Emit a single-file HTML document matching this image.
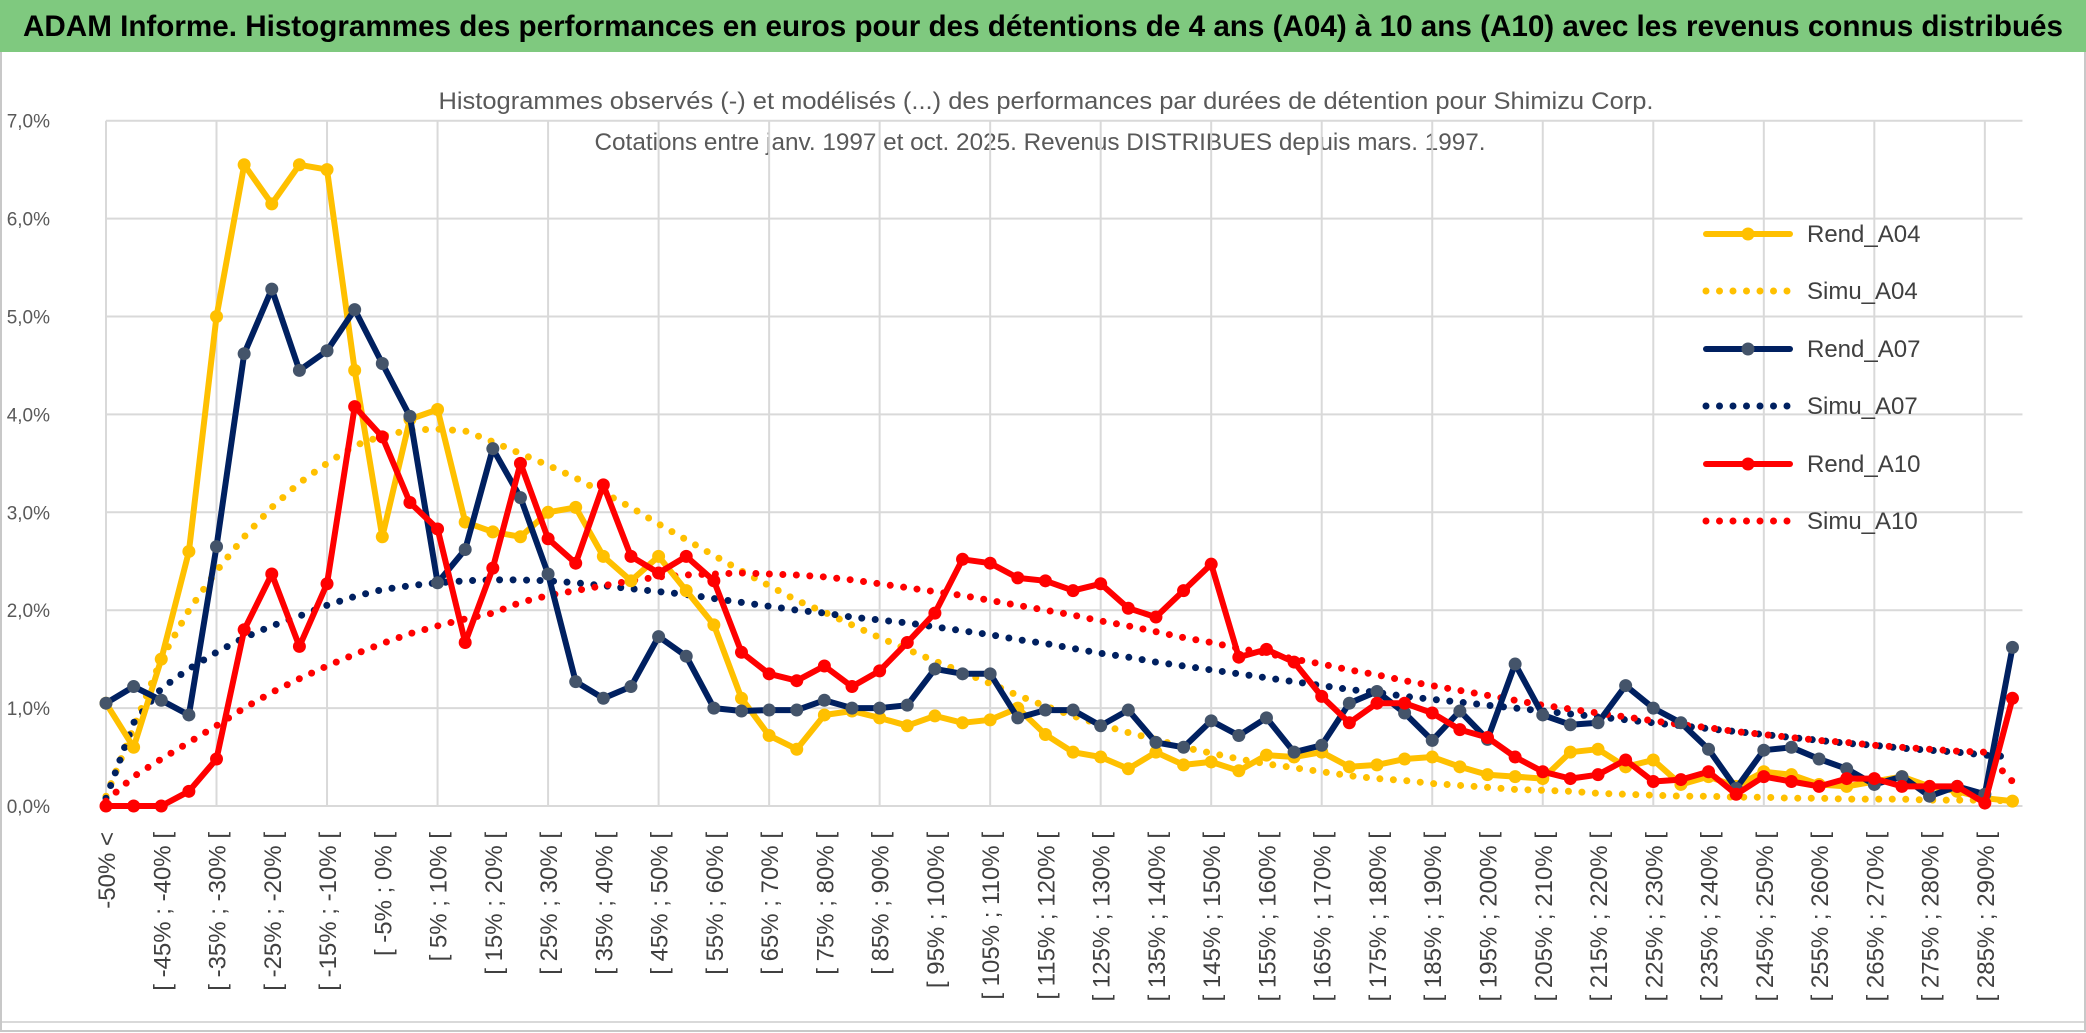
<!DOCTYPE html>
<html><head><meta charset="utf-8">
<style>
html,body{margin:0;padding:0;background:#fff;}
svg{display:block;}
text{font-family:"Liberation Sans Narrow","Liberation Sans",sans-serif;}
</style></head>
<body>
<svg id="chart" width="2086" height="1033" viewBox="0 0 2086 1033" xmlns="http://www.w3.org/2000/svg">
<rect x="0" y="0" width="2086" height="1033" fill="#fff"/>
<rect x="1" y="50" width="2084" height="981" fill="none" stroke="#c8c8c8" stroke-width="2"/>
<line x1="2" x2="2084" y1="1022" y2="1022" stroke="#d9d9d9" stroke-width="2"/>
<rect x="0" y="0" width="2086" height="52" fill="#7fc97f"/>
<text x="1043" y="36" text-anchor="middle" font-size="30" font-weight="bold" fill="#000" textLength="2040" lengthAdjust="spacingAndGlyphs">ADAM Informe. Histogrammes des performances en euros pour des détentions de 4 ans (A04) à 10 ans (A10) avec les revenus connus distribués</text>
<text x="1046" y="109" text-anchor="middle" font-size="24" fill="#595959" textLength="1215" lengthAdjust="spacingAndGlyphs">Histogrammes observés (-) et modélisés (...) des performances par durées de détention pour Shimizu Corp.</text>
<text x="1040" y="150" text-anchor="middle" font-size="24" fill="#595959" textLength="891" lengthAdjust="spacingAndGlyphs">Cotations entre janv. 1997 et oct. 2025. Revenus DISTRIBUES depuis mars. 1997.</text>
<g id="grid"></g>
<g id="yaxis"></g>
<g id="xaxis"></g>
<g id="series"></g>
<g id="legend"></g>
</svg>
<script>
const yTicks = [0,1,2,3,4,5,6,7];
const rendA04 = [1.05,0.6,1.5,2.6,5.0,6.55,6.15,6.55,6.5,4.45,2.75,3.95,4.05,2.9,2.8,2.75,3.0,3.05,2.55,2.3,2.55,2.2,1.85,1.1,0.72,0.58,0.93,0.97,0.9,0.82,0.92,0.85,0.88,1.0,0.73,0.55,0.5,0.38,0.55,0.42,0.45,0.36,0.52,0.5,0.55,0.4,0.42,0.48,0.5,0.4,0.32,0.3,0.28,0.55,0.58,0.4,0.47,0.22,0.3,0.2,0.35,0.32,0.22,0.2,0.25,0.3,0.2,0.15,0.08,0.05];
const rendA07 = [1.05,1.22,1.08,0.93,2.65,4.62,5.28,4.45,4.65,5.07,4.52,3.98,2.28,2.62,3.65,3.15,2.37,1.27,1.1,1.22,1.73,1.53,1.0,0.97,0.98,0.98,1.08,1.0,1.0,1.03,1.4,1.35,1.35,0.9,0.98,0.98,0.82,0.98,0.65,0.6,0.87,0.72,0.9,0.55,0.62,1.05,1.17,0.95,0.67,0.97,0.68,1.45,0.93,0.83,0.85,1.23,1.0,0.85,0.58,0.18,0.57,0.6,0.48,0.38,0.22,0.3,0.1,0.2,0.12,1.62];
const rendA10 = [0.0,0.0,0.0,0.15,0.48,1.8,2.37,1.63,2.27,4.08,3.77,3.1,2.83,1.67,2.43,3.5,2.73,2.48,3.28,2.55,2.38,2.55,2.3,1.57,1.35,1.28,1.43,1.22,1.38,1.67,1.97,2.52,2.48,2.33,2.3,2.2,2.27,2.02,1.93,2.2,2.47,1.52,1.6,1.47,1.12,0.85,1.05,1.05,0.95,0.78,0.7,0.5,0.35,0.28,0.32,0.47,0.25,0.27,0.35,0.12,0.3,0.25,0.2,0.28,0.28,0.2,0.2,0.2,0.03,1.1];
const simuA04 = [0.1,0.8,1.5,2.0,2.4,2.75,3.05,3.3,3.5,3.68,3.78,3.84,3.85,3.83,3.72,3.6,3.48,3.35,3.2,3.05,2.88,2.72,2.56,2.4,2.25,2.1,1.98,1.85,1.72,1.6,1.48,1.37,1.25,1.13,1.02,0.92,0.83,0.75,0.68,0.6,0.54,0.48,0.43,0.39,0.35,0.31,0.28,0.26,0.23,0.21,0.19,0.17,0.16,0.15,0.13,0.12,0.11,0.1,0.1,0.09,0.09,0.08,0.08,0.07,0.07,0.07,0.06,0.06,0.06,0.05];
const simuA07 = [0.08,0.85,1.2,1.4,1.57,1.72,1.84,1.94,2.05,2.14,2.21,2.25,2.28,2.3,2.31,2.31,2.3,2.28,2.25,2.22,2.19,2.16,2.12,2.08,2.04,2.0,1.97,1.93,1.9,1.87,1.83,1.79,1.75,1.7,1.66,1.61,1.56,1.52,1.47,1.43,1.39,1.35,1.31,1.27,1.23,1.19,1.16,1.12,1.09,1.06,1.03,1.0,0.97,0.94,0.91,0.88,0.85,0.82,0.79,0.76,0.73,0.7,0.67,0.64,0.62,0.59,0.57,0.55,0.52,0.5];
const simuA10 = [0.05,0.3,0.48,0.65,0.82,1.0,1.16,1.3,1.43,1.55,1.66,1.76,1.84,1.91,1.97,2.08,2.15,2.2,2.25,2.3,2.34,2.36,2.37,2.38,2.37,2.36,2.34,2.31,2.27,2.23,2.19,2.15,2.1,2.05,2.0,1.95,1.89,1.84,1.78,1.72,1.67,1.61,1.56,1.5,1.45,1.39,1.34,1.28,1.23,1.18,1.13,1.08,1.03,0.99,0.95,0.91,0.87,0.83,0.8,0.76,0.73,0.7,0.67,0.65,0.62,0.6,0.58,0.56,0.55,0.25];
const categories = ["-50% <"];
for (let s = -50; s < 295; s += 5) categories.push("[ " + s + "% ; " + (s + 5) + "% [");

const NS = "http://www.w3.org/2000/svg";
const X0 = 106, DX = 27.63, Y0 = 806, DY = 97.9;
function xs(i){ return X0 + i * DX; }
function ys(v){ return Y0 - v * DY; }
function mk(tag, attrs, parent){ const e = document.createElementNS(NS, tag); for (const k in attrs) e.setAttribute(k, attrs[k]); parent.appendChild(e); return e; }

const grid = document.getElementById('grid');
yTicks.forEach(t => {
  const l = mk('line', {x1: X0, x2: xs(categories.length - 1) + 10, y1: ys(t), y2: ys(t), stroke: '#d9d9d9', 'stroke-width': 2}, grid);
  
  
});
for (let i = 0; i < categories.length; i += 4) {
  const l = mk('line', {x1: xs(i), x2: xs(i), y1: ys(7), y2: ys(0), stroke: '#d9d9d9', 'stroke-width': 2}, grid);
  
  
}
const yaxis = document.getElementById('yaxis');
yTicks.forEach(t => {
  const e = mk('text', {x: 50, y: ys(t) + 7, 'text-anchor': 'end', 'font-size': 19, fill: '#595959'}, yaxis);
  e.textContent = t.toFixed(1).replace('.', ',') + '%';
  
  
});
const xaxis = document.getElementById('xaxis');
categories.forEach((c, i) => {
  if (i % 2) return;
  const x = xs(i) + 9, y = 832;
  const e = mk('text', {x: x, y: y, 'text-anchor': 'end', 'font-size': 24, fill: '#404040', transform: 'rotate(-90 ' + x + ' ' + y + ')'}, xaxis);
  e.textContent = c;
  
  
});

const series = document.getElementById('series');
function pts(arr){ return arr.map((v, i) => xs(i).toFixed(1) + ',' + ys(v).toFixed(1)).join(' '); }
function dotted(arr, color, name){
  const p = mk('polyline', {points: pts(arr), fill: 'none', stroke: color, 'stroke-width': 7, 'stroke-linecap': 'round', 'stroke-dasharray': '0 13.5'}, series);
  
  
}
function solid(arr, color, mcolor, name){
  const p = mk('polyline', {points: pts(arr), fill: 'none', stroke: color, 'stroke-width': 6, 'stroke-linejoin': 'round'}, series);
  
  
  arr.forEach((v, i) => {
    const c = mk('circle', {cx: xs(i), cy: ys(v), r: 6.5, fill: mcolor}, series);
    
    
  });
}
dotted(simuA04, '#ffc000', 'simu-a04-line');
dotted(simuA07, '#002060', 'simu-a07-line');
dotted(simuA10, '#ff0000', 'simu-a10-line');
solid(rendA04, '#ffc000', '#ffc000', 'rend-a04-line');
solid(rendA07, '#002060', '#44546a', 'rend-a07-line');
solid(rendA10, '#ff0000', '#ff0000', 'rend-a10-line');

const legend = document.getElementById('legend');
const legendNames = ['Rend_A04','Simu_A04','Rend_A07','Simu_A07','Rend_A10','Simu_A10'];
const legendColors = ['#ffc000','#ffc000','#002060','#002060','#ff0000','#ff0000'];
const legendY = [234,291,349,406,464,521];
legendNames.forEach((n, k) => {
  const y = legendY[k];
  const l = mk('line', {x1: 1706, x2: 1790, y1: y, y2: y, stroke: legendColors[k], 'stroke-width': k % 2 ? 7 : 6, 'stroke-linecap': 'round'}, legend);
  if (k % 2) l.setAttribute('stroke-dasharray', '0 13.5');
  
  
  if (!(k % 2)) {
    const c = mk('circle', {cx: 1748, cy: y, r: 6.5, fill: k === 2 ? '#44546a' : legendColors[k]}, legend);
    
    
  }
  const t = mk('text', {x: 1807, y: y + 8, 'font-size': 24, fill: '#404040'}, legend);
  t.textContent = n;
  
  
});
</script>
</body></html>
